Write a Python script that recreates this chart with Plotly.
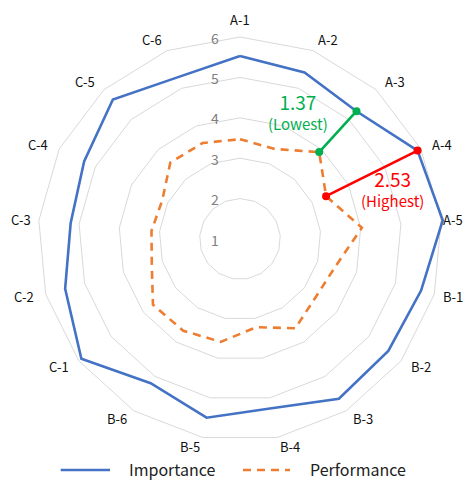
import math
import plotly.graph_objects as go

categories = ["A-1", "A-2", "A-3", "A-4", "A-5",
              "B-1", "B-2", "B-3", "B-4", "B-5", "B-6",
              "C-1", "C-2", "C-3", "C-4", "C-5", "C-6"]
importance = [5.53, 5.42, 5.28, 5.91, 6.04,
              5.66, 5.60, 5.65, 5.26, 5.50, 5.20,
              5.92, 5.50, 5.21, 5.31, 5.67, 5.29]
performance = [3.47, 3.39, 3.91, 3.38, 4.03,
               3.46, 3.36, 3.60, 3.22, 3.59, 3.67,
               3.70, 3.27, 3.20, 3.15, 3.56, 3.55]
radial_ticks = [1, 2, 3, 4, 5, 6]
series_names = ["Importance", "Performance"]
lowest_cat = "A-3"
highest_cat = "A-4"

# ---- geometry (page pixels; the page body has an 8px margin) ----
PAGE_W, PAGE_H = 474, 489
OFF = 8
FIG_W, FIG_H = PAGE_W - 2 * OFF, PAGE_H - 2 * OFF
R_MIN, R_MAX = 1, 6.1
CX, CY = 240, 239            # polar centre on the page
UNIT = 40.4                  # pixels per radial unit
RPX = (R_MAX - R_MIN) * UNIT

BLUE = "#4472C4"
ORANGE = "#ED7D31"
GREEN = "#00B050"
RED = "#FF0000"
FONT = "Noto Sans CJK KR, Open Sans, sans-serif"
DASH = "8px,6px"


def px_to_paper(px, py):
    return (px - OFF) / FIG_W, 1 - (py - OFF) / FIG_H


def polar_to_px(r, idx):
    ang = 2 * math.pi * idx / len(categories)
    rad = (r - R_MIN) * UNIT
    return CX + rad * math.sin(ang), CY - rad * math.cos(ang)


fig = go.Figure()
fig.add_trace(go.Scatterpolar(
    r=importance + [importance[0]], theta=categories + [categories[0]],
    mode="lines", name=series_names[0], showlegend=False,
    line=dict(color=BLUE, width=2.6)))
fig.add_trace(go.Scatterpolar(
    r=performance + [performance[0]], theta=categories + [categories[0]],
    mode="lines", name=series_names[1], showlegend=False,
    line=dict(color=ORANGE, width=2.6, dash=DASH)))

annotations = []
shapes = []

# gap markers (lowest / highest)
for cat, color, word, off in [
        (lowest_cat, GREEN, "(Lowest)", (-40.0, -21.0)),
        (highest_cat, RED, "(Highest)", (20.5, 15.0))]:
    i = categories.index(cat)
    fig.add_trace(go.Scatterpolar(
        r=[importance[i], performance[i]], theta=[cat, cat],
        mode="lines+markers", showlegend=False,
        line=dict(color=color, width=2.6),
        marker=dict(color=color, size=8)))
    x1, y1 = polar_to_px(importance[i], i)
    x2, y2 = polar_to_px(performance[i], i)
    mx, my = (x1 + x2) / 2, (y1 + y2) / 2
    diff = importance[i] - performance[i]
    ax, ay = px_to_paper(mx + off[0], my + off[1])
    annotations.append(dict(
        x=ax, y=ay, xref="paper", yref="paper",
        text=f"<span style='font-size:19px'>{diff:.2f}</span><br>{word}",
        showarrow=False, xanchor="center", yanchor="middle", align="center",
        font=dict(size=15, color=color, family=FONT)))

# category labels around the chart
x_lo, x_hi = OFF + 1, PAGE_W - OFF - 1
for i, cat in enumerate(categories):
    a = 2 * math.pi * i / len(categories)
    s, c = math.sin(a), math.cos(a)
    sgn = 0 if abs(s) < 1e-9 else (1 if s > 0 else -1)
    dx = 212.6 * s + 11.3 * sgn
    dy = 213 * c + 7 * c ** 30 if c > 0 else 211 * c
    lx, ly = CX + dx, CY - dy
    anchor = "center"
    if lx + 11 > x_hi:
        lx, anchor = x_hi, "right"
    elif lx - 11 < x_lo:
        lx, anchor = x_lo, "left"
    ax, ay = px_to_paper(lx, ly)
    annotations.append(dict(x=ax, y=ay, xref="paper", yref="paper",
                            text=cat, showarrow=False,
                            xanchor=anchor, yanchor="middle",
                            font=dict(size=13, color="#111111", family=FONT)))

# radial value labels (left of the vertical axis)
for t in radial_ticks:
    ax, ay = px_to_paper(CX - 25, CY - (t - R_MIN) * UNIT + 0.5)
    annotations.append(dict(x=ax, y=ay, xref="paper", yref="paper",
                            text=str(t), showarrow=False,
                            xanchor="center", yanchor="middle",
                            font=dict(size=14, color="#808080", family=FONT)))

# legend
LEG_Y = 469
for name, color, dash, x0, x1, tx in [
        (series_names[0], BLUE, "solid", 60.7, 110, 127),
        (series_names[1], ORANGE, DASH, 243, 290, 308)]:
    sx0, sy = px_to_paper(x0, LEG_Y + 1)
    sx1, _ = px_to_paper(x1, LEG_Y + 1)
    shapes.append(dict(type="line", xref="paper", yref="paper",
                       x0=sx0, x1=sx1, y0=sy, y1=sy,
                       line=dict(color=color, width=2.6, dash=dash)))
    ax, ay = px_to_paper(tx, LEG_Y)
    annotations.append(dict(x=ax, y=ay, xref="paper", yref="paper",
                            text=name, showarrow=False,
                            xanchor="left", yanchor="middle",
                            font=dict(size=16, color="#222222", family=FONT)))

dx0, dy_top = px_to_paper(CX - RPX, CY - RPX)
dx1, dy_bot = px_to_paper(CX + RPX, CY + RPX)

fig.update_layout(
    width=FIG_W, height=FIG_H,
    margin=dict(l=0, r=0, t=0, b=0),
    paper_bgcolor="white",
    font=dict(family=FONT),
    showlegend=False,
    annotations=annotations,
    shapes=shapes,
    polar=dict(
        domain=dict(x=[dx0, dx1], y=[dy_bot, dy_top]),
        bgcolor="white",
        gridshape="linear",
        radialaxis=dict(range=[R_MIN, R_MAX], tickvals=radial_ticks,
                        angle=90, showticklabels=False,
                        showline=False, ticks="",
                        gridcolor="#D9D9D9", gridwidth=1),
        angularaxis=dict(type="category", categoryarray=categories,
                         direction="clockwise", rotation=90,
                         showgrid=False, showline=False, ticks="",
                         showticklabels=False),
    ),
)

fig.write_html("out.html")
